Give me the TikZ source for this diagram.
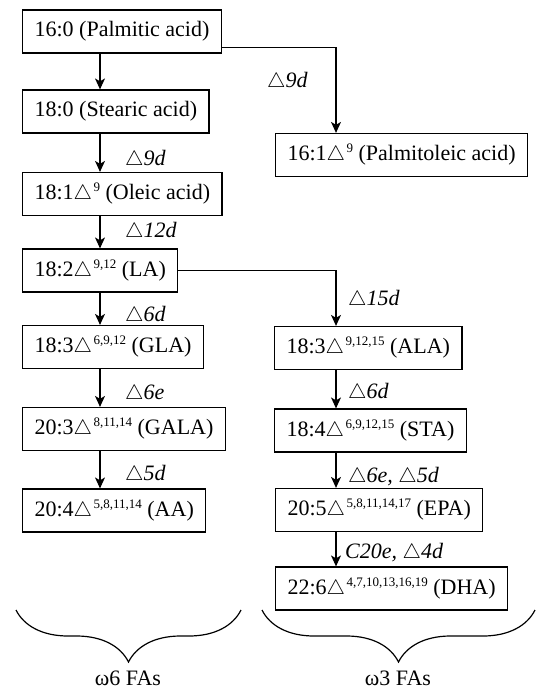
\documentclass[tikz,border=0pt]{standalone}
\usepackage{fontspec}
\setmainfont{Liberation Serif}
\usetikzlibrary{arrows.meta,decorations.pathreplacing}
\newcommand{\dl}{\ensuremath{\triangle}}
\newcommand{\dsup}[1]{\dl\hspace{1.5pt}\raisebox{8pt}{\fontsize{13}{14}\selectfont #1}}
\tikzset{
  fa/.style={draw, line width=1.2pt, anchor=west, minimum height=43pt,
    inner xsep=12pt, font=\fontsize{22}{26}\selectfont},
  enz/.style={anchor=west, inner sep=0pt, font=\fontsize{22}{26}\selectfont\itshape},
  flow/.style={line width=1.2pt, -{Stealth[length=11pt,width=10pt,inset=3pt]}},
  brc/.style={line width=1.2pt, decorate, decoration={brace, amplitude=52pt}}
}
\begin{document}
\begin{tikzpicture}[x=1pt,y=-1pt]
\useasboundingbox[fill=white] (0,0) rectangle (536,690);
\coordinate (lx) at (100,0);
\coordinate (rx) at (336,0);

\node[fa] (palm) at (22,31.5) {16:0 (Palmitic acid)};
\node[fa] (stear) at (22,111.5) {18:0 (Stearic acid)};
\node[fa] (olei) at (22,194) {18:1\dsup{9} (Oleic acid)};
\node[fa] (palmo) at (275,155) {16:1\dsup{9} (Palmitoleic acid)};
\node[fa] (la) at (22,270.5) {18:2\dsup{9,12} (LA)};
\node[fa] (gla) at (22,347) {18:3\dsup{6,9,12} (GLA)};
\node[fa] (gala) at (22,429) {20:3\dsup{8,11,14} (GALA)};
\node[fa] (aa) at (22,510.5) {20:4\dsup{5,8,11,14} (AA)};
\node[fa] (ala) at (274,348) {18:3\dsup{9,12,15} (ALA)};
\node[fa] (sta) at (274,430.5) {18:4\dsup{6,9,12,15} (STA)};
\node[fa] (epa) at (275,510) {20:5\dsup{5,8,11,14,17} (EPA)};
\node[fa] (dha) at (275,588.5) {22:6\dsup{4,7,10,13,16,19} (DHA)};

\draw[flow] (palm.south -| lx) -- (stear.north -| lx);
\draw[flow] (stear.south -| lx) -- (olei.north -| lx);
\draw[flow] (olei.south -| lx) -- (la.north -| lx);
\draw[flow] (la.south -| lx) -- (gla.north -| lx);
\draw[flow] (gla.south -| lx) -- (gala.north -| lx);
\draw[flow] (gala.south -| lx) -- (aa.north -| lx);
\draw[flow] ([yshift=6pt]palm.south east) -| (palmo.north -| rx);
\draw[flow] (la.east) -| (ala.north -| rx);
\draw[flow] (ala.south -| rx) -- (sta.north -| rx);
\draw[flow] (sta.south -| rx) -- (epa.north -| rx);
\draw[flow] (epa.south -| rx) -- (dha.north -| rx);

\node[enz] (e1) at (267,82) {\dl9d};
\node[enz] (e2) at (125,160) {\dl9d};
\node[enz] (e3) at (125,232) {\dl12d};
\node[enz] (e4) at (348,300) {\dl15d};
\node[enz] (e5) at (125,316) {\dl6d};
\node[enz] (e6) at (348,393) {\dl6d};
\node[enz] (e7) at (125,394) {\dl6e};
\node[enz] (e8) at (125,475) {\dl5d};
\node[enz] (e9) at (348,477) {\dl6e, \dl5d};
\node[enz] (e10) at (345,553) {C20e, \dl4d};

\draw[brc] (241,610) -- (16,610);
\draw[brc] (535,610) -- (262,610);
\node[font=\fontsize{22}{26}\selectfont] (w6) at (128,678) {ω6 FAs};
\node[font=\fontsize{22}{26}\selectfont] (w3) at (398,678) {ω3 FAs};
\end{tikzpicture}
\end{document}
